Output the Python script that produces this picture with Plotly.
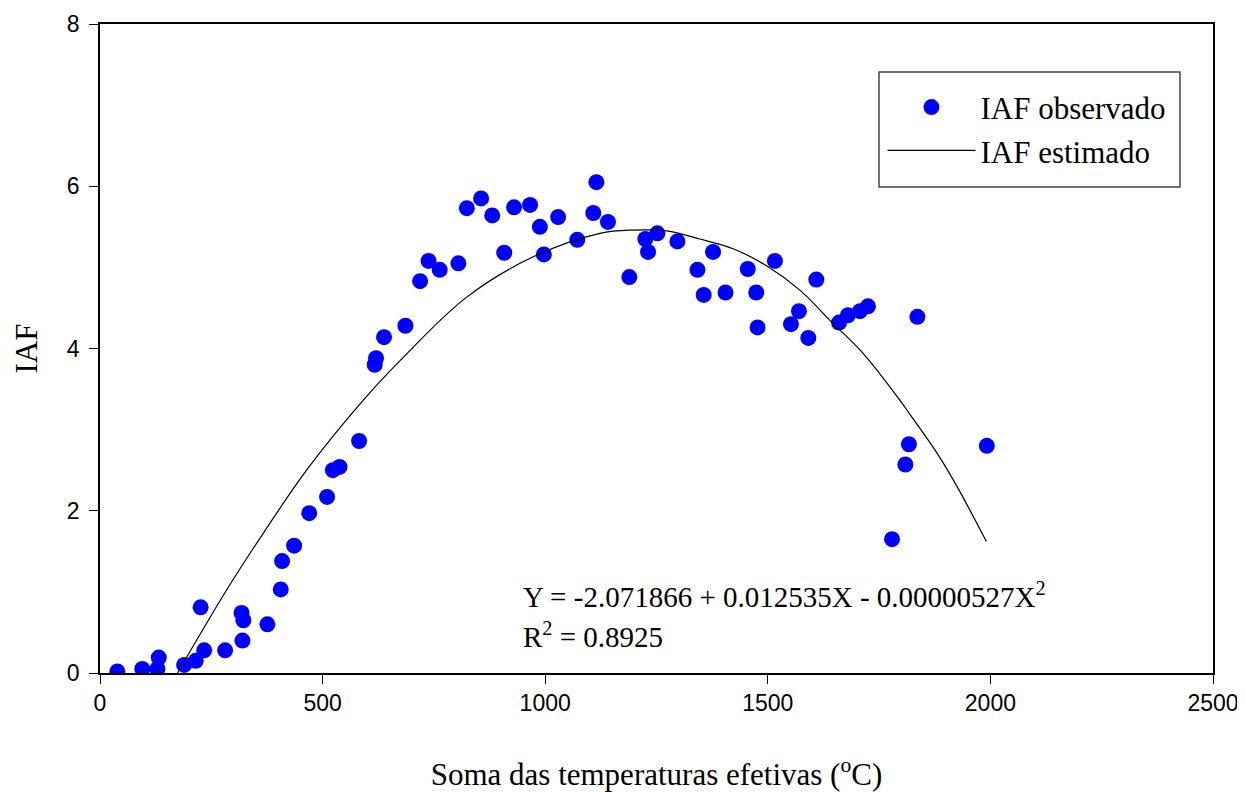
import plotly.graph_objects as go

soma_obs = [39, 95, 129, 132, 189, 215, 234, 226, 281, 320, 318, 322, 376, 406, 409,
            436, 470, 510, 523, 538, 582, 617, 620, 638, 686, 719, 738, 763, 805, 824,
            856, 881, 908, 930, 966, 988, 997, 1029, 1072, 1108, 1115, 1141, 1189,
            1225, 1231, 1252, 1297, 1342, 1356, 1377, 1405, 1455, 1474, 1477, 1516,
            1552, 1570, 1591, 1609, 1660, 1680, 1707, 1725, 1779, 1809, 1817, 1836, 1992]
iaf_obs = [0.02, 0.05, 0.05, 0.19, 0.10, 0.15, 0.28, 0.81, 0.28, 0.40, 0.74, 0.65, 0.60,
           1.03, 1.38, 1.57, 1.97, 2.17, 2.50, 2.54, 2.86, 3.80, 3.88, 4.14, 4.28, 4.83,
           5.08, 4.97, 5.05, 5.73, 5.85, 5.64, 5.18, 5.74, 5.77, 5.50, 5.16, 5.62, 5.34,
           5.67, 6.05, 5.56, 4.88, 5.35, 5.19, 5.42, 5.32, 4.97, 4.66, 5.19, 4.69, 4.98,
           4.69, 4.26, 5.08, 4.30, 4.46, 4.13, 4.85, 4.32, 4.41, 4.46, 4.52, 1.65, 2.57,
           2.82, 4.39, 2.80]

# fitted curve
soma_est = [174, 284, 352, 464, 591, 674, 823, 973, 1123, 1198, 1273, 1347, 1422,
            1497, 1572, 1639, 1714, 1797, 1819, 1879, 1924, 1991]
iaf_est = [0.0, 1.02, 1.60, 2.50, 3.36, 3.85, 4.63, 5.13, 5.42, 5.46, 5.45, 5.35, 5.23,
           5.02, 4.72, 4.35, 3.94, 3.36, 3.19, 2.72, 2.31, 1.62]

serif = "Liberation Serif"
sans = "Liberation Sans"

fig = go.Figure()
fig.add_trace(go.Scatter(x=soma_obs, y=iaf_obs, mode="markers", name="IAF observado",
                         marker=dict(color="#0000ff", size=16)))
fig.add_trace(go.Scatter(x=soma_est, y=iaf_est, mode="lines", name="IAF estimado",
                         line=dict(color="black", width=1.2, shape="spline")))

fig.add_annotation(x=945, y=0.96, xref="x", yref="y", xanchor="left", showarrow=False,
                   text="Y = -2.071866 + 0.012535X - 0.00000527X<sup>2</sup>",
                   font=dict(family=serif, size=29, color="black"))
fig.add_annotation(x=945, y=0.47, xref="x", yref="y", xanchor="left", showarrow=False,
                   text="R<sup>2</sup> = 0.8925",
                   font=dict(family=serif, size=29, color="black"))

# legend frame
fig.add_shape(type="rect", xref="paper", yref="paper", x0=0.6999, x1=0.9703,
              y0=0.7488, y1=0.926, line=dict(color="#444444", width=1.5))

axis_common = dict(showline=True, linecolor="black", linewidth=1.5, mirror=True,
                   ticks="outside", ticklen=9, tickcolor="black", showgrid=False,
                   zeroline=False, automargin=False,
                   tickfont=dict(family=sans, size=23, color="black"))

fig.update_xaxes(range=[0, 2500], dtick=500, **axis_common,
                 title=dict(text="Soma das temperaturas efetivas (<sup>o</sup>C)",
                            font=dict(family=serif, size=31, color="black"), standoff=49))
fig.update_yaxes(range=[0, 8], dtick=2, ticklabelstandoff=5, **axis_common,
                 title=dict(text="IAF", font=dict(family=serif, size=31, color="black"),
                            standoff=20))

# page body adds 8px margin, so the figure is 8px smaller than the window
fig.update_layout(
    width=1237, height=784,
    margin=dict(l=92, r=32, t=16, b=119),
    plot_bgcolor="white", paper_bgcolor="white",
    legend=dict(x=0.703, y=0.913, xanchor="left", yanchor="top",
                borderwidth=0, bgcolor="rgba(0,0,0,0)",
                font=dict(family=serif, size=31, color="black"), itemwidth=88),
)

fig.write_html("out.html")
